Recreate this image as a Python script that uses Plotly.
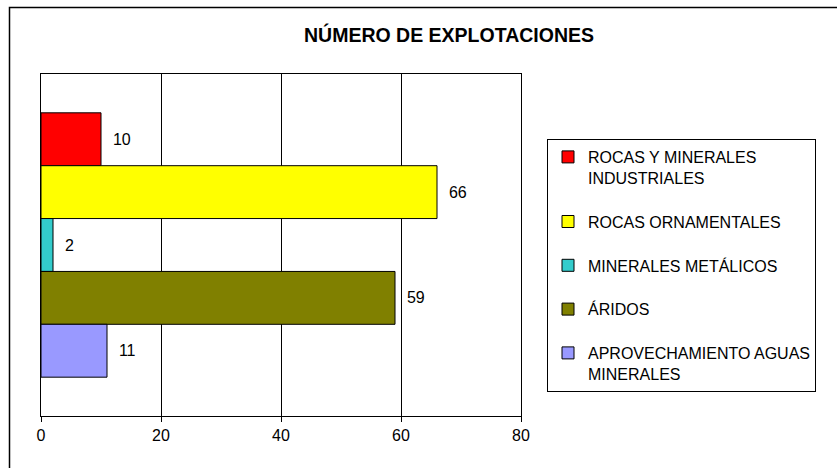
import plotly.graph_objects as go

series = ["ROCAS Y MINERALES<br>INDUSTRIALES", "ROCAS ORNAMENTALES", "MINERALES METÁLICOS",
          "ÁRIDOS", "APROVECHAMIENTO AGUAS<br>MINERALES"]
values = [10, 66, 2, 59, 11]
colors = ["#FF0000", "#FFFF00", "#33CCCC", "#808000", "#9999FF"]
category = ["Explotaciones"]
x_ticks = [0, 20, 40, 60, 80]

FONT = "Arial, Liberation Sans, sans-serif"

fig = go.Figure()
for i, (name, v, c) in enumerate(zip(series, values, colors)):
    fig.add_trace(go.Bar(
        y=category, x=[v], name=name, orientation="h",
        marker=dict(color=c, line=dict(color="black", width=1)),
        text=[v], texttemplate="\u00a0\u00a0%{x}", textposition="outside",
        textfont=dict(family=FONT, size=16, color="black"),
        cliponaxis=False, legendgroup=f"g{i}",
    ))

L, R, T, B = 41, 316, 74, 52
W, H = 837, 468
pw, ph = W - L - R, H - T - B

def px_x(x):
    return (x - L) / pw

def px_y(y):
    return (H - B - y) / ph

fig.update_layout(
    width=W, height=H,
    margin=dict(l=L, r=R, t=T, b=B),
    paper_bgcolor="white", plot_bgcolor="white",
    barmode="group", bargap=0.227,
    font=dict(family=FONT, size=16, color="black"),
    title=dict(text="<b>NÚMERO DE EXPLOTACIONES</b>", x=449 / W, xref="container",
               xanchor="center", y=1 - 35 / H, yref="container", yanchor="middle",
               font=dict(family=FONT, size=19.5, color="black")),
    xaxis=dict(range=[0, 80], tickvals=x_ticks, showgrid=True, gridcolor="black",
               gridwidth=1, showline=True, linecolor="black", linewidth=1, mirror=True,
               ticks="outside", ticklen=5, tickcolor="black", zeroline=False,
               tickfont=dict(family=FONT, size=16, color="black")),
    yaxis=dict(autorange="reversed", showticklabels=False, showline=True, linecolor="black",
               linewidth=1, mirror=True, ticks="", showgrid=False),
    legend=dict(x=px_x(547), y=px_y(139), xanchor="left", yanchor="top",
                bordercolor="black", borderwidth=1, bgcolor="white",
                font=dict(family=FONT, size=16, color="black"),
                tracegroupgap=20, valign="top", traceorder="grouped",
                itemwidth=30),
    shapes=[dict(type="rect", xref="paper", yref="paper",
                 x0=px_x(9.5), x1=px_x(845), y0=px_y(475), y1=px_y(7.5),
                 line=dict(color="black", width=1.5), layer="below")],
    showlegend=True,
)

fig.write_html("out.html", config={"displayModeBar": False},
               post_script="document.body.style.margin='0';")
